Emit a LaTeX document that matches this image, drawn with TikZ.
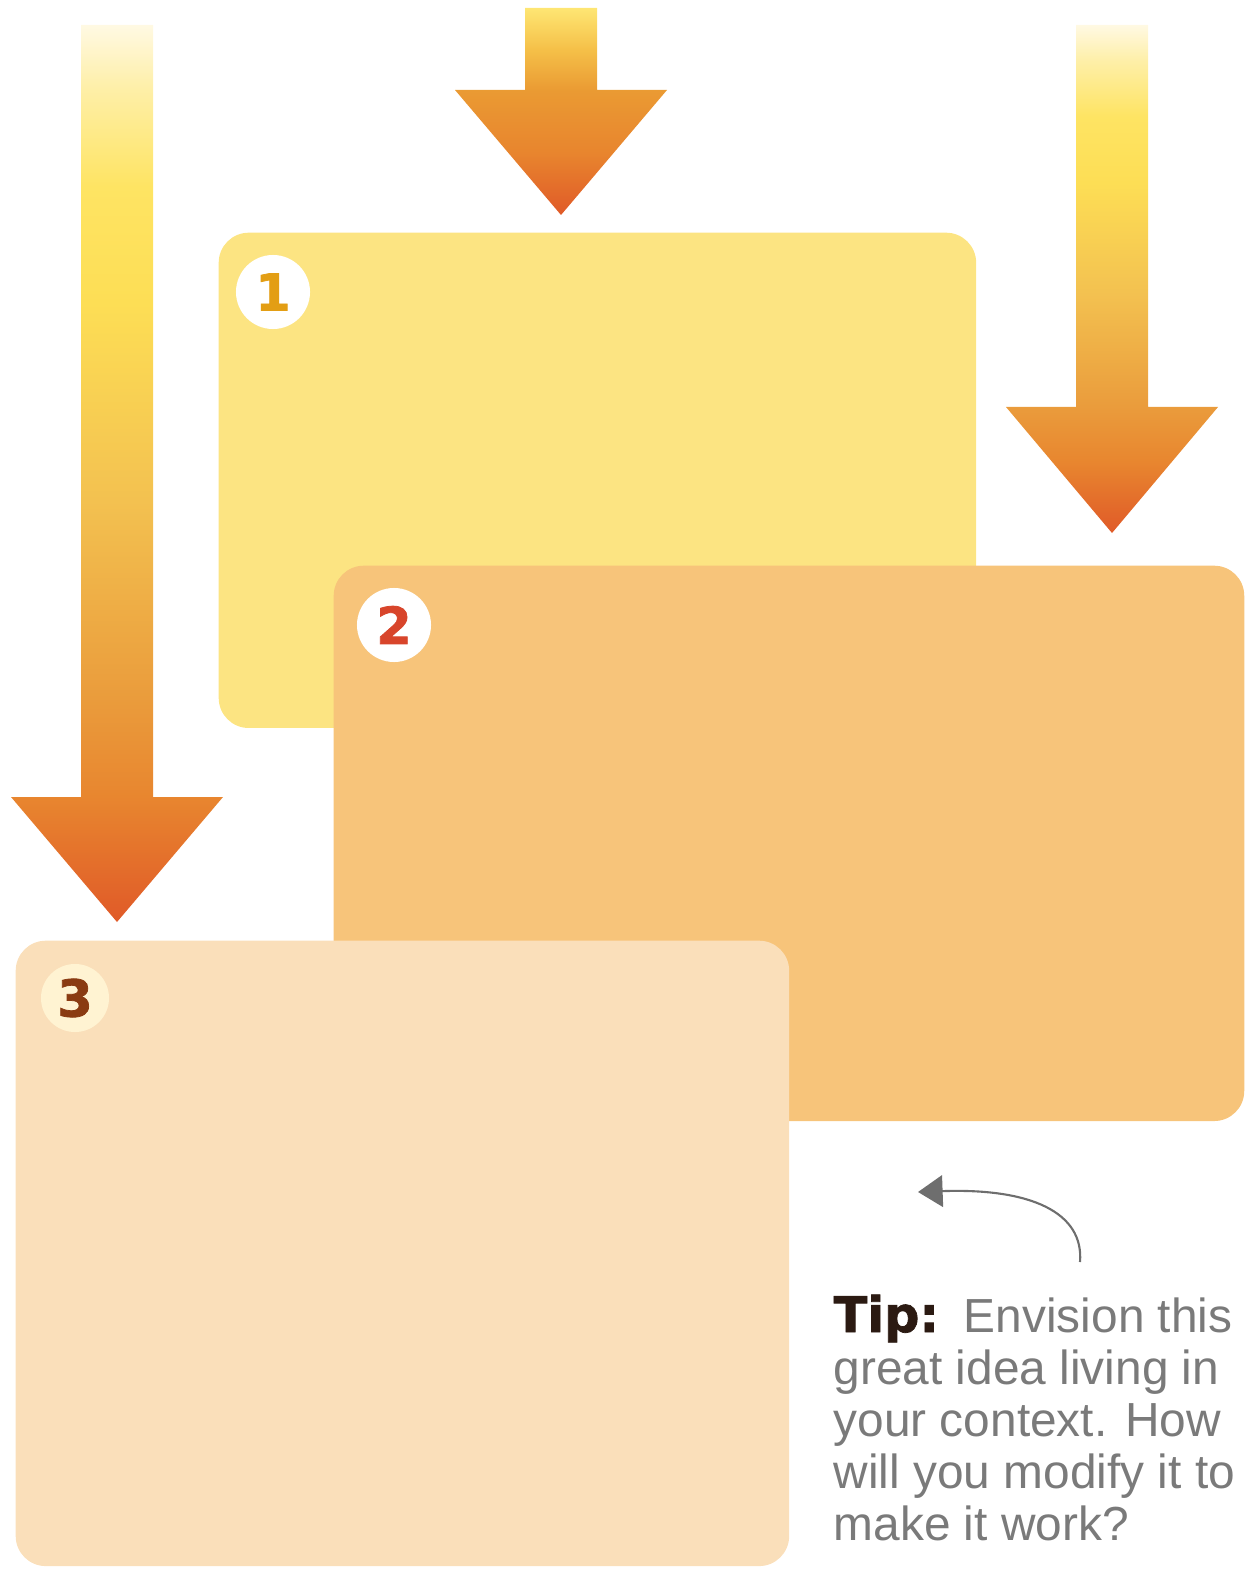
\documentclass[tikz,border=0pt]{standalone}
\usepackage{fontspec}
\usepackage{xcolor}
\usetikzlibrary{arrows.meta}
\setmainfont{Liberation Sans}
\newfontfamily\tipfont{Liberation Sans}
\newfontfamily\heavyfont{DejaVu Sans}[BoldFeatures={FakeBold=1.5}]
\definecolor{boxyellow}{HTML}{FCE482}
\definecolor{boxorange}{HTML}{F7C47A}
\definecolor{boxpeach}{HTML}{FADFBA}
\definecolor{numgold}{HTML}{E39E14}
\definecolor{numred}{HTML}{D8452B}
\definecolor{numbrown}{HTML}{8A3B12}
\definecolor{creamdisc}{HTML}{FFF3D2}
\definecolor{tipgray}{HTML}{7A7A7A}
\definecolor{tipdark}{HTML}{2B1A12}
\definecolor{curlgray}{HTML}{6E6E6E}
% arrow shadings (the path box is mapped on 25bp..75bp)
\pgfdeclareverticalshading{arrowlong}{100bp}{%
    color(0bp)=({rgb,255:red,224;green,90;blue,40});
    color(25bp)=({rgb,255:red,224;green,90;blue,40});
    color(32bp)=({rgb,255:red,232;green,134;blue,47});
    color(37.5bp)=({rgb,255:red,234;green,156;blue,60});
    color(48.5bp)=({rgb,255:red,243;green,193;blue,80});
    color(59.5bp)=({rgb,255:red,253;green,222;blue,85});
    color(66bp)=({rgb,255:red,254;green,228;blue,99});
    color(71.5bp)=({rgb,255:red,254;green,239;blue,168});
    color(75bp)=({rgb,255:red,255;green,249;blue,227});
    color(100bp)=({rgb,255:red,255;green,249;blue,227})}
\pgfdeclareverticalshading{arrowshort}{100bp}{%
    color(0bp)=({rgb,255:red,224;green,90;blue,40});
    color(25bp)=({rgb,255:red,224;green,90;blue,40});
    color(40bp)=({rgb,255:red,232;green,133;blue,46});
    color(55bp)=({rgb,255:red,234;green,154;blue,51});
    color(65bp)=({rgb,255:red,245;green,192;blue,72});
    color(75bp)=({rgb,255:red,254;green,230;blue,115});
    color(100bp)=({rgb,255:red,254;green,230;blue,115})}
% #1 centre x, #2 shaft top, #3 head top, #4 tip, #5 shading
\newcommand{\stepArrow}[5]{%
    \shade[shading=#5] (#1-36,#2) -- (#1+36,#2) -- (#1+36,#3) -- (#1+106,#3)
        -- (#1,#4) -- (#1-106,#3) -- (#1-36,#3) -- cycle;
}

\begin{document}
\begin{tikzpicture}[x=0.01cm, y=-0.01cm,
    stagebox/.style={rounded corners=0.3cm, inner sep=0pt, anchor=north west},
    numdisc/.style={circle, fill=white, inner sep=0pt, minimum size=0.74cm,
        font=\fontsize{14.5}{15}\selectfont\heavyfont\bfseries},
    tiptext/.style={inner sep=0pt, anchor=north west, align=left, text=tipgray,
        font=\fontsize{13.6}{14.8}\selectfont\tipfont},
    tipline/.style={curlgray, line width=0.6pt, -{Triangle[length=7pt, width=9pt]}}]
    \useasboundingbox (0,0) rectangle (1248,1570);

    % arrows
    \stepArrow{117}{25}{797}{922}{arrowlong}
    \stepArrow{561}{8}{90}{215}{arrowshort}
    \stepArrow{1112}{25}{407}{533}{arrowlong}

    % stages
    \node[stagebox, fill=boxyellow, minimum width=7.57cm, minimum height=4.95cm] (box1) at (218,232) {};
    \node[stagebox, fill=boxorange, minimum width=9.10cm, minimum height=5.55cm] (box2) at (333,565) {};
    \node[stagebox, fill=boxpeach, minimum width=7.73cm, minimum height=6.25cm] (box3) at (15,940) {};

    \node[numdisc, text=numgold] (n1) at (273,292) {1};
    \node[numdisc, text=numred] (n2) at (394,625) {2};
    \node[numdisc, fill=creamdisc, minimum size=0.68cm, text=numbrown] (n3) at (75,998) {3};

    % tip
    \node[tiptext] (tip) at (833,1294) {{\fontsize{14}{14.8}\selectfont\heavyfont\bfseries\color{tipdark}Tip:}\hspace{2pt} Envision this\\great idea living in\\your context. How\\will you modify it to\\make it work?};
    \coordinate (curl) at (1080,1262);
    \coordinate (aim) at (918,1192);
    \draw[tipline] (curl) .. controls (1084,1212) and (1030,1188) .. (aim);
\end{tikzpicture}
\end{document}
